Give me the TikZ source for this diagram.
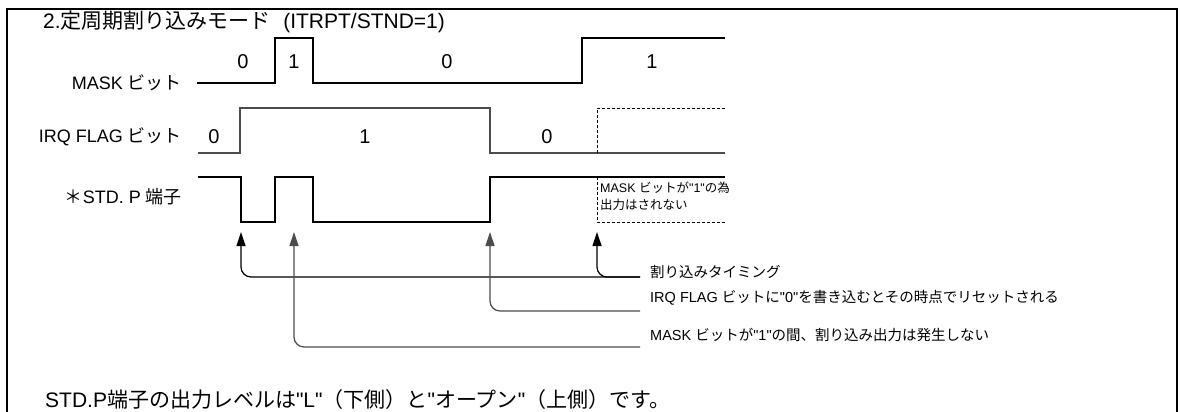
\documentclass[tikz,border=0pt]{standalone}
\usepackage{fontspec}
\setmainfont{Liberation Sans}[Ligatures=TeXOff]
\newfontfamily\jpf{Noto Sans CJK JP}
\newcommand\jt[1]{{\jpf #1}}
\usetikzlibrary{arrows.meta}
\begin{document}
\begin{tikzpicture}[x=1pt,y=-1pt,
  sig/.style={line width=1.3pt, black},
  sigg/.style={line width=1.3pt, black!70},
  dsig/.style={line width=1pt, black, dash pattern=on 3pt off 2pt},
  lbl/.style={inner sep=0, anchor=east, font=\fontsize{18}{20}\selectfont},
  dig/.style={inner sep=0, font=\fontsize{20}{22}\selectfont},
  note/.style={inner sep=0, anchor=west, font=\fontsize{14.5}{16}\selectfont},
  small/.style={inner sep=0, anchor=west, align=left, font=\fontsize{12.5}{17}\selectfont},
  big/.style={inner sep=0, anchor=west, font=\fontsize{21}{24}\selectfont},
  conn/.style={line width=1.2pt, rounded corners=10pt, -{Triangle[length=14pt,width=9pt]}},
  conng/.style={conn, black!70},
]
\useasboundingbox (0,0) rectangle (1180,412);
\fill[white] (0,0) rectangle (1180,412);
\draw[line width=2.5pt] (7,412) -- (7,9) -- (1177,9) -- (1177,412);

% title
\node[big] (title) at (43,22) {2.\jt{定周期割り込みモード}\hspace{0.6em}(ITRPT/STND=1)};

% row labels
\node[lbl] (lmask) at (182,83) {MASK \jt{ビット}};
\node[lbl] (lirq) at (182,137) {IRQ FLAG \jt{ビット}};
\node[lbl] (lstd) at (182,197) {\jt{＊}STD. P \jt{端子}};

% MASK signal
\draw[sig] (197,83) -- (275,83) -- (275,38) -- (313,38) -- (313,83) -- (582,83) -- (582,38) -- (725,38);
\node[dig] (m0a) at (243,62) {0};
\node[dig] (m1a) at (294,62) {1};
\node[dig] (m0b) at (447,62) {0};
\node[dig] (m1b) at (652,62) {1};

% IRQ FLAG signal
\draw[sigg] (198,153) -- (240,153) -- (240,108) -- (490,108) -- (490,153) -- (725,153);
\draw[dsig] (597,153) -- (597,108) -- (725,108);
\node[dig] (i0a) at (214,137) {0};
\node[dig] (i1a) at (365,137) {1};
\node[dig] (i0b) at (547,137) {0};

% STD.P signal
\draw[sig] (198,177) -- (241,177) -- (241,222) -- (275,222) -- (275,177) -- (313,177) -- (313,222) -- (490,222) -- (490,177) -- (725,177);
\draw[dsig] (597,177) -- (597,222) -- (725,222);
\node[small] (boxtxt) at (600,196) {MASK \jt{ビットが}"1"\jt{の為}\\\jt{出力はされない}};

% arrow tips
\coordinate (a1) at (241,232);
\coordinate (a2) at (294,232);
\coordinate (a3) at (490,232);
\coordinate (a4) at (597,232);
\coordinate (e1) at (640,277);
\coordinate (e2) at (640,311);
\coordinate (e3) at (640,347);

% annotations
\node[note] (n1) at (650,272) {\jt{割り込みタイミング}};
\node[note] (n2) at (650,298) {IRQ FLAG \jt{ビットに}"0"\jt{を書き込むとその時点でリセットされる}};
\node[note] (n3) at (650,335) {MASK \jt{ビットが}"1"\jt{の間、割り込み出力は発生しない}};

\draw[conn] (e1) -| (a1);
\draw[conn] (e1) -| (a4);
\draw[conng] (e2) -| (a3);
\draw[conng] (e3) -| (a2);

% bottom note
\node[big] (foot) at (45,400) {STD.P\jt{端子の出力レベルは}"L"\jt{（下側）と}"\jt{オープン}"\jt{（上側）です。}};
\end{tikzpicture}
\end{document}
